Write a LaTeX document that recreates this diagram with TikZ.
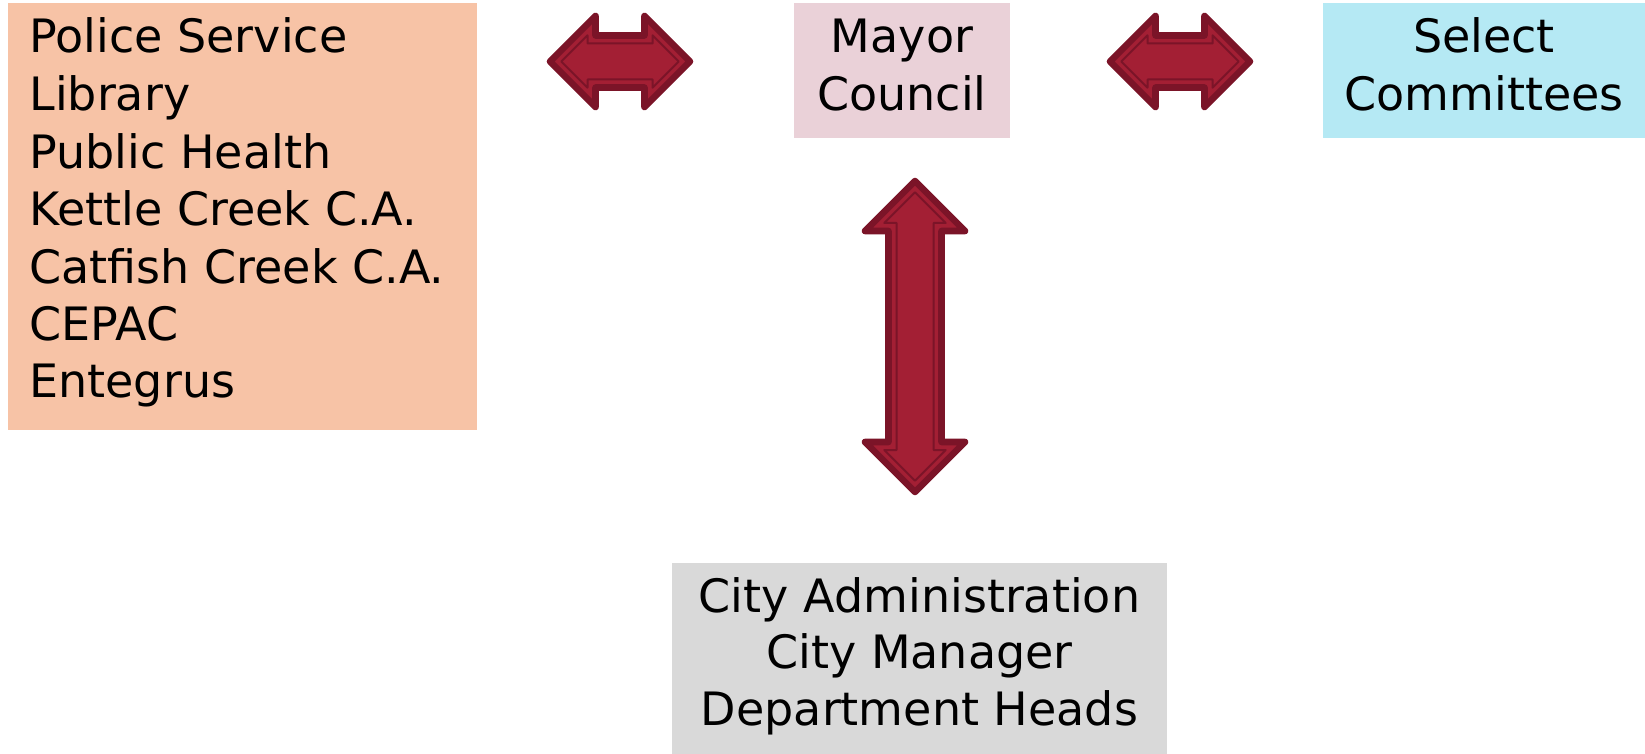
\documentclass[tikz,border=0pt]{standalone}
\usepackage{fontspec}
\setmainfont{DejaVu Sans}
\definecolor{orangebox}{HTML}{F7C3A6}
\definecolor{mayorbox}{HTML}{EAD1D8}
\definecolor{selectbox}{HTML}{B5E9F4}
\definecolor{adminbox}{HTML}{D9D9D9}
\definecolor{arrowfill}{HTML}{A31F34}
\definecolor{arrowline}{HTML}{7B1428}
\tikzset{
  txt/.style={inner sep=0pt, font=\fontsize{23pt}{28.75pt}\selectfont, text=black},
  blockarrow/.style={fill=arrowfill, draw=arrowline, line width=3.3pt, line join=round},
  innerline/.style={draw=arrowline, line width=1pt, line join=round}
}
% horizontal double arrow: cx, cy, L, h, s, d
\newcommand\hdblarrow[6]{%
  \path[blockarrow] ({#1-#3},{#2}) -- ({#1-#3+#4},{#2-#4}) -- ({#1-#3+#4},{#2-#5}) -- ({#1+#3-#4},{#2-#5}) -- ({#1+#3-#4},{#2-#4}) -- ({#1+#3},{#2}) -- ({#1+#3-#4},{#2+#4}) -- ({#1+#3-#4},{#2+#5}) -- ({#1-#3+#4},{#2+#5}) -- ({#1-#3+#4},{#2+#4}) -- cycle;
  \path[innerline] ({#1-#3+1.4142*#6},{#2}) -- ({#1-#3+#4-#6},{#2-#4+2.4142*#6}) -- ({#1-#3+#4-#6},{#2-#5+#6}) -- ({#1+#3-#4+#6},{#2-#5+#6}) -- ({#1+#3-#4+#6},{#2-#4+2.4142*#6}) -- ({#1+#3-1.4142*#6},{#2}) -- ({#1+#3-#4+#6},{#2+#4-2.4142*#6}) -- ({#1+#3-#4+#6},{#2+#5-#6}) -- ({#1-#3+#4-#6},{#2+#5-#6}) -- ({#1-#3+#4-#6},{#2+#4-2.4142*#6}) -- cycle;
}
% vertical double arrow: cx, cy, L, h, s, d
\newcommand\vdblarrow[6]{%
  \path[blockarrow] ({#1},{#2-#3}) -- ({#1+#4},{#2-#3+#4}) -- ({#1+#5},{#2-#3+#4}) -- ({#1+#5},{#2+#3-#4}) -- ({#1+#4},{#2+#3-#4}) -- ({#1},{#2+#3}) -- ({#1-#4},{#2+#3-#4}) -- ({#1-#5},{#2+#3-#4}) -- ({#1-#5},{#2-#3+#4}) -- ({#1-#4},{#2-#3+#4}) -- cycle;
  \path[innerline] ({#1},{#2-#3+1.4142*#6}) -- ({#1+#4-2.4142*#6},{#2-#3+#4-#6}) -- ({#1+#5-#6},{#2-#3+#4-#6}) -- ({#1+#5-#6},{#2+#3-#4+#6}) -- ({#1+#4-2.4142*#6},{#2+#3-#4+#6}) -- ({#1},{#2+#3-1.4142*#6}) -- ({#1-#4+2.4142*#6},{#2+#3-#4+#6}) -- ({#1-#5+#6},{#2+#3-#4+#6}) -- ({#1-#5+#6},{#2-#3+#4-#6}) -- ({#1-#4+2.4142*#6},{#2-#3+#4-#6}) -- cycle;
}
\begin{document}
\begin{tikzpicture}[x=0.5pt,y=-0.5pt]
\useasboundingbox (0,0) rectangle (1645,754);
% boxes
\fill[orangebox] (8,3) rectangle (477,430);
\fill[mayorbox] (794,3) rectangle (1010,138);
\fill[selectbox] (1323,3) rectangle (1645,138);
\fill[adminbox] (672,563) rectangle (1167,754);
% texts (anchor = baseline of the last line)
\node[txt, anchor=base west, align=left] (orgs) at (29,398)
  {Police Service\\Library\\Public Health\\Kettle Creek C.A.\\Catfish Creek C.A.\\CEPAC\\Entegrus};
\node[txt, anchor=base, align=center] (mayor) at (902,110.5) {Mayor\\Council};
\node[txt, anchor=base, align=center] (select) at (1484,110.5) {Select\\Committees};
\node[txt, anchor=base, align=center, font=\fontsize{23pt}{28.25pt}\selectfont] (admin) at (919.5,725)
  {City Administration\\City Manager\\Department Heads};
% arrows
\hdblarrow{620}{61.5}{70}{45.5}{26}{8}
\hdblarrow{1180}{61.5}{70}{45.5}{26}{8}
\vdblarrow{915}{336.5}{155.5}{50}{26.5}{8}
\end{tikzpicture}
\end{document}
